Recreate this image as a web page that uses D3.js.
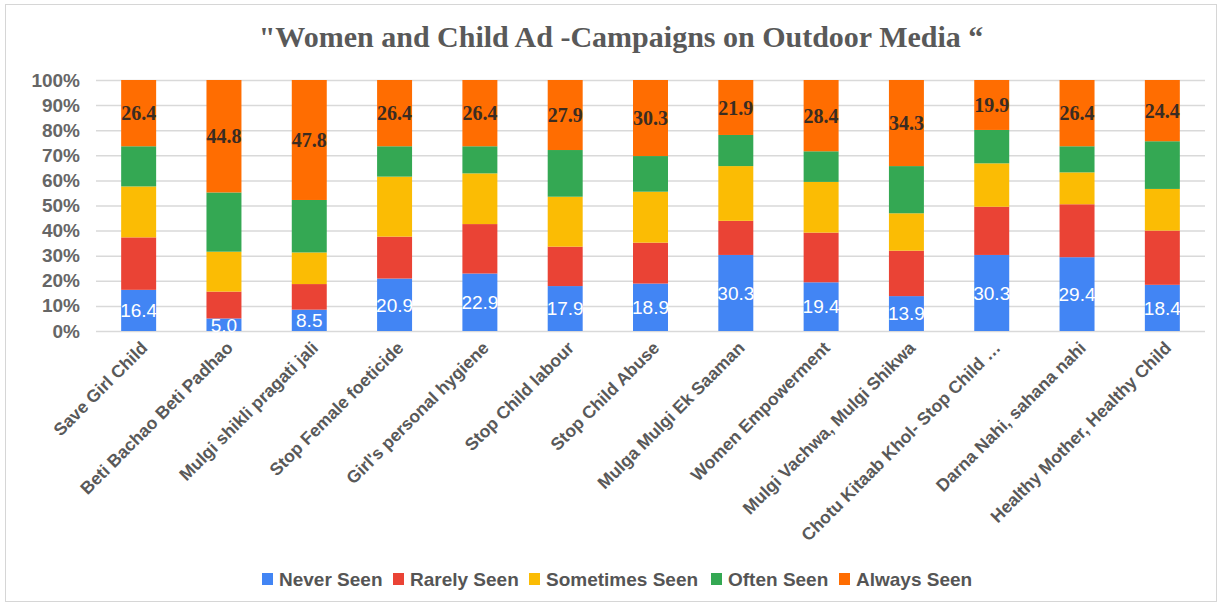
<!DOCTYPE html>
<html>
<head>
<meta charset="utf-8">
<script src="https://cdn.jsdelivr.net/npm/d3@7"></script>
<style>
  body { margin: 0; background: #fff; }
  svg { display: block; }
</style>
</head>
<body>
<svg id="chart" width="1221" height="605"></svg>
<script>
const campaigns = [
  "Save Girl Child", "Beti Bachao Beti Padhao", "Mulgi shikli pragati jali",
  "Stop Female foeticide", "Girl's personal hygiene", "Stop Child labour",
  "Stop Child Abuse", "Mulga Mulgi Ek Saaman", "Women Empowerment",
  "Mulgi Vachwa, Mulgi Shikwa", "Chotu Kitaab Khol- Stop Child \u2026",
  "Darna Nahi, sahana nahi", "Healthy Mother, Healthy Child"
];
const seriesNames = ["Never Seen", "Rarely Seen", "Sometimes Seen", "Often Seen", "Always Seen"];
const neverSeen     = [16.4, 5.0, 8.5, 20.9, 22.9, 17.9, 18.9, 30.3, 19.4, 13.9, 30.3, 29.4, 18.4];
const rarelySeen    = [20.9, 10.7, 10.2, 16.7, 19.7, 15.7, 16.3, 13.6, 19.8, 18.1, 19.2, 21.1, 21.6];
const sometimesSeen = [20.3, 15.9, 12.6, 23.9, 20.2, 19.9, 20.3, 21.8, 20.2, 14.9, 17.3, 12.7, 16.6];
const oftenSeen     = [16.0, 23.6, 20.9, 12.1, 10.8, 18.6, 14.2, 12.4, 12.2, 18.8, 13.3, 10.4, 19.0];
const alwaysSeen    = [26.4, 44.8, 47.8, 26.4, 26.4, 27.9, 30.3, 21.9, 28.4, 34.3, 19.9, 26.4, 24.4];
const yTicks = [0, 10, 20, 30, 40, 50, 60, 70, 80, 90, 100];
const colors = ["#4285F4", "#EA4335", "#FBBC04", "#34A853", "#FF6D01"];

const rows = campaigns.map((c, i) => ({
  name: c,
  "Never Seen": neverSeen[i],
  "Rarely Seen": rarelySeen[i],
  "Sometimes Seen": sometimesSeen[i],
  "Often Seen": oftenSeen[i],
  "Always Seen": alwaysSeen[i]
}));

const svg = d3.select("#chart");
const margin = { top: 80, right: 16, bottom: 274, left: 96 };
const width = 1221, height = 605;

// outer frame
svg.append("rect")
  .attr("x", 5.5).attr("y", 4.5)
  .attr("width", width - 10).attr("height", height - 8)
  .attr("fill", "#fff").attr("stroke", "#d6d6d6");

const x = d3.scaleBand()
  .domain(campaigns)
  .range([margin.left, width - margin.right])
  .paddingInner(0.59)
  .paddingOuter(0.295);

const y = d3.scaleLinear()
  .domain([0, 100])
  .range([height - margin.bottom, margin.top]);

const color = d3.scaleOrdinal().domain(seriesNames).range(colors);

svg.append("text")
  .attr("x", 621).attr("y", 47)
  .attr("text-anchor", "middle")
  .attr("font-family", "Liberation Serif, Times New Roman, serif")
  .attr("font-weight", "bold")
  .attr("font-size", 30)
  .attr("fill", "#595959")
  .text("\"Women and Child Ad -Campaigns on Outdoor Media \u201C");

// grid + y axis
const yAxis = svg.append("g")
  .attr("transform", `translate(${margin.left},0)`)
  .call(d3.axisLeft(y).tickValues(yTicks).tickFormat(d => d + "%")
    .tickSize(-(width - margin.left - margin.right)).tickPadding(16))
  .call(g => g.select(".domain").remove());
yAxis.selectAll(".tick line").attr("stroke", "#d9d9d9").attr("stroke-width", 1.5);
yAxis.selectAll(".tick text")
  .attr("font-family", "Liberation Sans, Arial, sans-serif")
  .attr("font-weight", "bold")
  .attr("font-size", 19)
  .attr("fill", "#666");

const stacked = d3.stack().keys(seriesNames)(rows);

svg.append("g").selectAll("g")
  .data(stacked)
  .join("g")
  .attr("fill", d => color(d.key))
  .selectAll("rect")
  .data(d => d)
  .join("rect")
  .attr("x", d => x(d.data.name))
  .attr("width", x.bandwidth())
  .attr("y", d => y(d[1]))
  .attr("height", d => y(d[0]) - y(d[1]));

// never seen labels
svg.append("g").selectAll("text")
  .data(stacked[0])
  .join("text")
  .attr("x", d => x(d.data.name) + x.bandwidth() / 2)
  .attr("y", d => (y(d[0]) + y(d[1])) / 2)
  .attr("dy", "0.36em")
  .attr("text-anchor", "middle")
  .attr("font-family", "Liberation Sans, Arial, sans-serif")
  .attr("font-size", 19)
  .attr("fill", "#fff")
  .text(d => d.data["Never Seen"].toFixed(1));

// always seen labels
svg.append("g").selectAll("text")
  .data(stacked[4])
  .join("text")
  .attr("x", d => x(d.data.name) + x.bandwidth() / 2)
  .attr("y", d => (y(d[0]) + y(d[1])) / 2)
  .attr("dy", "0.36em")
  .attr("text-anchor", "middle")
  .attr("font-family", "Liberation Serif, Times New Roman, serif")
  .attr("font-weight", "bold")
  .attr("font-size", 20)
  .attr("fill", "#3a2c22")
  .text(d => d.data["Always Seen"].toFixed(1));

// x axis labels
const xAxis = svg.append("g")
  .attr("transform", `translate(0,${height - margin.bottom})`)
  .call(d3.axisBottom(x).tickSize(0).tickPadding(0))
  .call(g => g.select(".domain").remove());
xAxis.selectAll(".tick text")
  .attr("font-family", "Liberation Sans, Arial, sans-serif")
  .attr("font-weight", "bold")
  .attr("font-size", 17.5)
  .attr("fill", "#595959")
  .attr("text-anchor", "end")
  .attr("dy", null).attr("y", null)
  .attr("transform", "translate(10,18) rotate(-45)");

// legend
const legendItems = [
  { key: "Never Seen", x: 262 },
  { key: "Rarely Seen", x: 393 },
  { key: "Sometimes Seen", x: 529 },
  { key: "Often Seen", x: 711 },
  { key: "Always Seen", x: 839 }
];
const legend = svg.append("g").attr("transform", "translate(0,579)");
const li = legend.selectAll("g").data(legendItems).join("g")
  .attr("transform", d => `translate(${d.x},0)`);
li.append("rect")
  .attr("x", 0).attr("y", -6).attr("width", 11).attr("height", 12)
  .attr("fill", d => color(d.key));
li.append("text")
  .attr("x", 17).attr("dy", "0.36em")
  .attr("font-family", "Liberation Sans, Arial, sans-serif")
  .attr("font-weight", "bold")
  .attr("font-size", 19)
  .attr("fill", "#555")
  .text(d => d.key);
</script>
</body>
</html>
